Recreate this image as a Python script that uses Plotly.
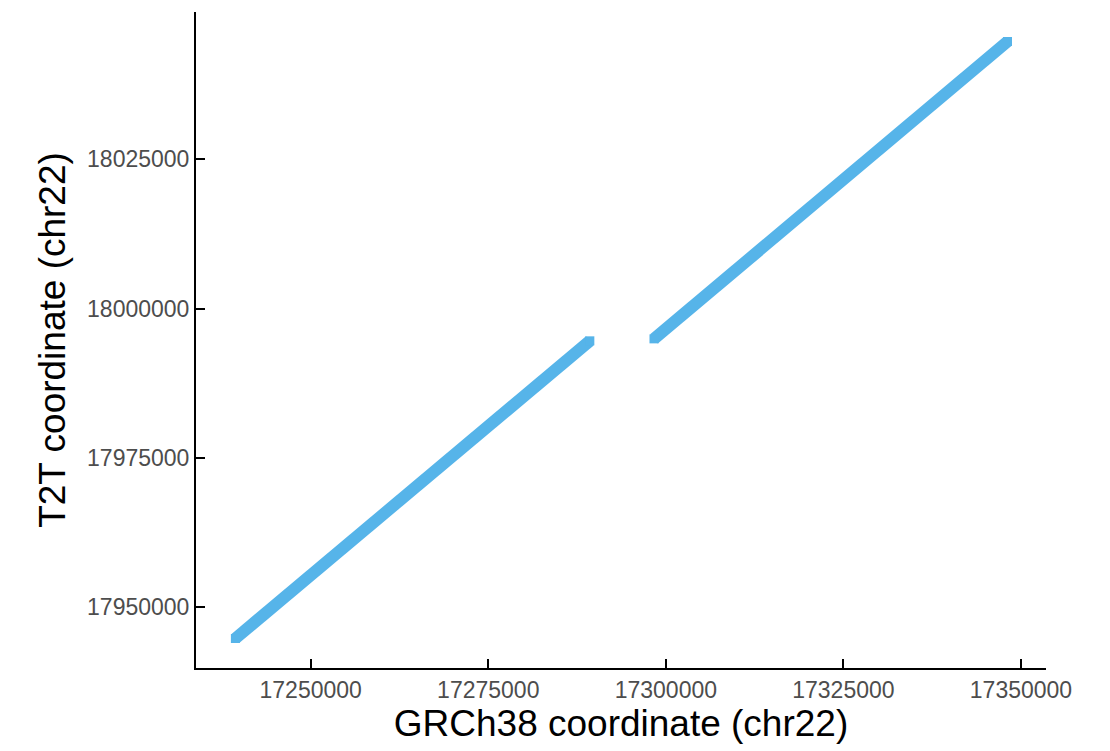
import plotly.graph_objects as go

# Alignment segments (GRCh38 x, T2T y)
seg1_x = [17239400, 17289300]
seg1_y = [17944780, 17994610]
seg2_x = [17298330, 17348100]
seg2_y = [17994940, 18044720]

x_ticks = [17250000, 17275000, 17300000, 17325000, 17350000]
y_ticks = [17950000, 17975000, 18000000, 18025000]

color = "#56B4E9"

fig = go.Figure()
for xs, ys in [(seg1_x, seg1_y), (seg2_x, seg2_y)]:
    fig.add_trace(go.Scatter(
        x=xs, y=ys, mode="lines+markers",
        line=dict(color=color, width=12),
        marker=dict(symbol="square", size=9, color=color, line=dict(width=0)),
        showlegend=False, hoverinfo="skip",
    ))

fig.update_layout(
    width=1110, height=751,
    margin=dict(l=196, r=64, t=12, b=83),
    plot_bgcolor="white", paper_bgcolor="white",
    font=dict(family="Liberation Sans, Arial, sans-serif"),
)
fig.update_xaxes(
    range=[17233854, 17353519],
    tickmode="array", tickvals=x_ticks, ticktext=[str(v) for v in x_ticks],
    showgrid=False, zeroline=False,
    showline=True, linecolor="black", linewidth=2,
    ticks="inside", ticklen=9, tickwidth=2, tickcolor="black",
    tickfont=dict(size=23, color="#4D4D4D"),
    title=dict(text="GRCh38 coordinate (chr22)", font=dict(size=37, color="black"), standoff=3),
)
fig.update_yaxes(
    range=[17939838, 18049661],
    tickmode="array", tickvals=y_ticks, ticktext=[str(v) for v in y_ticks],
    showgrid=False, zeroline=False,
    showline=True, linecolor="black", linewidth=2,
    ticks="inside", ticklen=9, tickwidth=2, tickcolor="black",
    tickfont=dict(size=23, color="#4D4D4D"),
    title=dict(text="T2T coordinate (chr22)", font=dict(size=37, color="black"), standoff=10),
)
fig.write_html("out.html")
